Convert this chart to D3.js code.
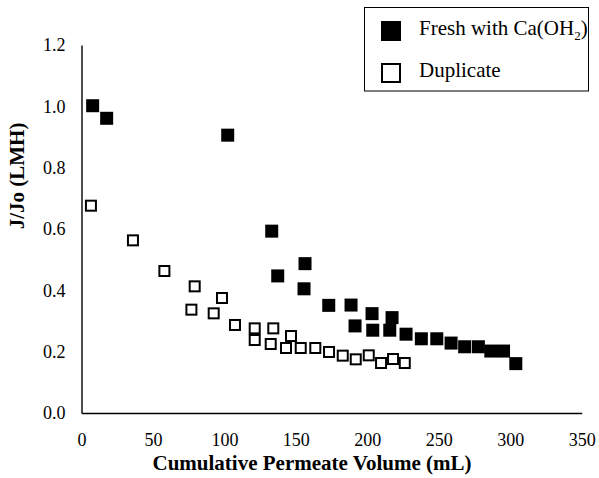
<!DOCTYPE html>
<html>
<head>
<meta charset="utf-8">
<script src="https://cdn.jsdelivr.net/npm/d3@7"></script>
<style>
  body { margin: 0; background: #fff; }
  text { font-family: "Liberation Serif", "Times New Roman", serif; fill: #000; }
</style>
</head>
<body>
<div id="chart"></div>
<script>
// Fresh with Ca(OH)2 (filled squares)
var freshX = [7.8, 17.6, 102.3, 133.1, 137.3, 156.4, 155.7, 173, 188.6, 191.4, 203.3, 203.8, 217.3, 215.7, 227.1, 237.8, 248.6, 258.6, 268.1, 277.7, 286.4, 295.3, 303.9];
var freshY = [1.002, 0.961, 0.906, 0.593, 0.447, 0.487, 0.405, 0.351, 0.352, 0.284, 0.324, 0.27, 0.311, 0.27, 0.257, 0.242, 0.242, 0.228, 0.216, 0.216, 0.202, 0.202, 0.161];

// Duplicate (open squares)
var dupX = [6.6, 36, 58, 76.9, 79.2, 92.5, 98.3, 107.4, 121.2, 121.2, 132.4, 134.2, 143.1, 146.6, 153.4, 163.6, 173.2, 182.8, 191.9, 201, 209.6, 218, 226.2];
var dupY = [0.676, 0.563, 0.463, 0.337, 0.413, 0.325, 0.375, 0.287, 0.276, 0.238, 0.225, 0.276, 0.212, 0.251, 0.212, 0.212, 0.199, 0.187, 0.175, 0.188, 0.163, 0.176, 0.163];

// tick labels
var xTicks = [0, 50, 100, 150, 200, 250, 300, 350];
var yTicks = [0, 0.2, 0.4, 0.6, 0.8, 1.0, 1.2];

var svgWidth = 599, svgHeight = 478;
var margin = {top: 45, right: 17.3, bottom: 65, left: 81.5};
var chartWidth = svgWidth - margin.left - margin.right;
var chartHeight = svgHeight - margin.top - margin.bottom;

var svg = d3.select("#chart").append("svg")
    .attr("width", svgWidth)
    .attr("height", svgHeight);

var chartGroup = svg.append("g")
    .attr("transform", `translate(${margin.left}, ${margin.top})`);

// scales
var xLinSc = d3.scaleLinear().domain([0, 350]).range([0, chartWidth]);
var yLinSc = d3.scaleLinear().domain([0, 1.2]).range([chartHeight, 0]);

// axes, no tick marks
var xAxis = d3.axisBottom(xLinSc).tickValues(xTicks).tickSize(0).tickPadding(20).tickFormat(d3.format("d"));
var yAxis = d3.axisLeft(yLinSc).tickValues(yTicks).tickSize(0).tickPadding(16).tickFormat(d3.format(".1f"));

var gx = chartGroup.append("g")
    .attr("transform", `translate(0, ${chartHeight})`)
    .call(xAxis);
var gy = chartGroup.append("g").call(yAxis);

[gx, gy].forEach(g => {
    g.select(".domain").attr("stroke", "#000").attr("stroke-width", 1.4);
    g.selectAll("text").attr("font-size", 18);
});

// points
var fs = 13;
chartGroup.append("g").selectAll("rect")
    .data(freshX.map((v, i) => [v, freshY[i]]))
    .enter().append("rect")
    .attr("x", d => xLinSc(d[0]) - fs / 2)
    .attr("y", d => yLinSc(d[1]) - fs / 2)
    .attr("width", fs)
    .attr("height", fs)
    .attr("fill", "#000");

var os = 10;
chartGroup.append("g").selectAll("rect")
    .data(dupX.map((v, i) => [v, dupY[i]]))
    .enter().append("rect")
    .attr("x", d => xLinSc(d[0]) - os / 2)
    .attr("y", d => yLinSc(d[1]) - os / 2)
    .attr("width", os)
    .attr("height", os)
    .attr("fill", "#fff")
    .attr("stroke", "#000")
    .attr("stroke-width", 2);

// axis titles
svg.append("text")
    .attr("x", 312)
    .attr("y", 470)
    .attr("text-anchor", "middle")
    .attr("font-size", 21)
    .attr("font-weight", "bold")
    .text("Cumulative Permeate Volume (mL)");

svg.append("text")
    .attr("transform", "translate(24, 176) rotate(-90)")
    .attr("text-anchor", "middle")
    .attr("font-size", 21)
    .attr("font-weight", "bold")
    .text("J/Jo (LMH)");

// legend
var leg = svg.append("g");
leg.append("rect")
    .attr("x", 364.5).attr("y", 7.5)
    .attr("width", 224).attr("height", 83.5)
    .attr("fill", "#fff").attr("stroke", "#000").attr("stroke-width", 1);
leg.append("rect")
    .attr("x", 381).attr("y", 21).attr("width", 20).attr("height", 20)
    .attr("fill", "#000");
leg.append("rect")
    .attr("x", 382).attr("y", 64).attr("width", 18).attr("height", 18)
    .attr("fill", "#fff").attr("stroke", "#000").attr("stroke-width", 2);

var t1 = leg.append("text")
    .attr("x", 419).attr("y", 35)
    .attr("font-size", 21)
    .text("Fresh with Ca(OH");
t1.append("tspan").attr("font-size", 13).attr("dy", 5).text("2");
t1.append("tspan").attr("dy", -5).text(")");

leg.append("text")
    .attr("x", 419).attr("y", 77)
    .attr("font-size", 21)
    .text("Duplicate");
</script>
</body>
</html>
